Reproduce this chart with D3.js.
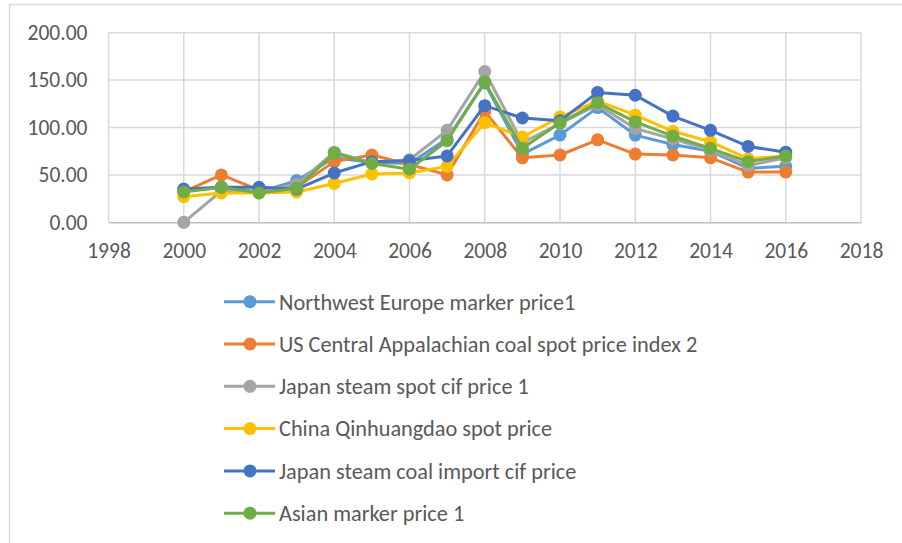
<!DOCTYPE html>
<html>
<head>
<meta charset="utf-8">
<script src="https://cdn.jsdelivr.net/npm/d3@7"></script>
<style>
body{margin:0;background:#fff;}
svg text{font-family:Carlito,Calibri,Lato,sans-serif;fill:#595959;}
</style>
</head>
<body>
<svg width="902" height="543"></svg>
<script>
var years = [2000,2001,2002,2003,2004,2005,2006,2007,2008,2009,2010,2011,2012,2013,2014,2015,2016];
var nwEurope = [33,37,32,44,68,63,62,88,147,72,92,121,92,82,75,57,59];
var usAppalachian = [32,50,34,37,64,71,61,50,117,68,71,87,72,71,68,53,53];
var japanSpot = [0,33,33,40,74,63,66,97,159,84,104,124,99,88,76,60,68];
var chinaQhd = [27,31,31,32,41,51,52,59,105,90,111,128,113,96,85,67,70];
var japanImport = [35,37,37,35,52,64,65,70,123,110,107,137,134,112,97,80,74];
var asianMarker = [32,37,31,36,73,62,56,86,148,78,105,126,106,91,78,64,70];

var names = ["Northwest Europe marker price1","US Central Appalachian coal spot price index 2",
	"Japan steam spot cif price 1","China Qinhuangdao spot price",
	"Japan steam coal import cif price","Asian marker price 1"];
var colors = ["#5B9BD5","#ED7D31","#A5A5A5","#FFC000","#4472C4","#70AD47"];
var series = [nwEurope,usAppalachian,japanSpot,chinaQhd,japanImport,asianMarker];

var xTicks = [1998,2000,2002,2004,2006,2008,2010,2012,2014,2016,2018];
var yTicks = [0,50,100,150,200];

var svg = d3.select("svg");

// outer chart border
svg.append("rect")
	.attr("x",9.5).attr("y",4.5)
	.attr("width",900).attr("height",560)
	.attr("fill","none").attr("stroke","#D9D9D9").attr("stroke-width",1.5);

var x = d3.scaleLinear().domain([1998,2018]).range([108.5,861]);
var y = d3.scaleLinear().domain([0,200]).range([222.3,32.7]);

// grid
svg.append("g").selectAll("line").data(yTicks.slice(1)).enter().append("line")
	.attr("x1",x(1998)).attr("x2",x(2018))
	.attr("y1",function(d){return y(d)}).attr("y2",function(d){return y(d)})
	.attr("stroke","#D9D9D9").attr("stroke-width",1.5);
svg.append("g").selectAll("line").data(xTicks).enter().append("line")
	.attr("x1",function(d){return x(d)}).attr("x2",function(d){return x(d)})
	.attr("y1",y(0)).attr("y2",y(200))
	.attr("stroke","#D9D9D9").attr("stroke-width",1.5);

// axes
var yAxis = svg.append("g").attr("transform","translate("+x(1998)+",0)")
	.call(d3.axisLeft(y).tickValues(yTicks).tickSize(0).tickPadding(21).tickFormat(d3.format(".2f")));
yAxis.select(".domain").remove();
var xAxis = svg.append("g").attr("transform","translate(0,"+y(0)+")")
	.call(d3.axisBottom(x).tickValues(xTicks).tickSize(0).tickPadding(20).tickFormat(d3.format("d")));
xAxis.select(".domain").attr("stroke","#BFBFBF").attr("stroke-width",1.5);
svg.selectAll(".tick text").attr("font-size",21.5).style("fill","#595959");

// lines
var line = d3.line()
	.x(function(d,i){return x(years[i])})
	.y(function(d){return y(d)});

series.forEach(function(s,k){
	var g = svg.append("g");
	g.append("path").datum(s)
		.attr("d",line)
		.attr("fill","none").attr("stroke",colors[k]).attr("stroke-width",3)
		.attr("stroke-linejoin","round");
	g.selectAll("circle").data(s).enter().append("circle")
		.attr("cx",function(d,i){return x(years[i])})
		.attr("cy",function(d){return y(d)})
		.attr("r",6.5).attr("fill",colors[k]);
});

// legend
var legend = svg.append("g").selectAll("g").data(names).enter().append("g")
	.attr("transform",function(d,i){return "translate(224,"+(301.7+i*42.3)+")"});
legend.append("line").attr("x1",0).attr("x2",51)
	.attr("stroke",function(d,i){return colors[i]}).attr("stroke-width",3);
legend.append("circle").attr("cx",26).attr("r",6.5)
	.attr("fill",function(d,i){return colors[i]});
legend.append("text").attr("x",55).attr("dy","0.35em")
	.attr("font-size",22.3).text(function(d){return d});
</script>
</body>
</html>
